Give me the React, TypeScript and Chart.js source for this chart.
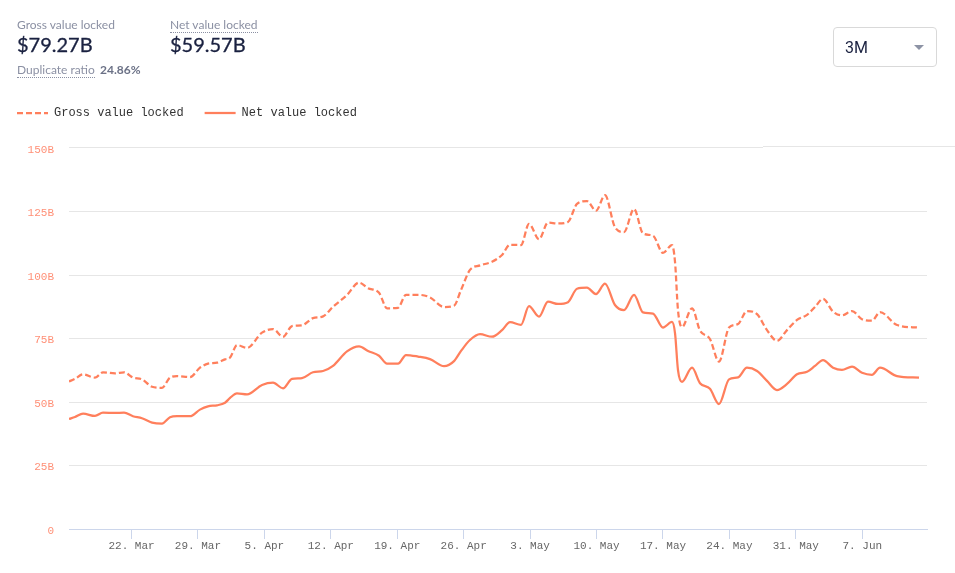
import React, { useRef, useEffect } from 'react';
import { Chart, registerables } from 'chart.js';

Chart.register(...registerables);

// days since the first sample at the turning points of the curves
const days = [
  0, 0.63, 1.48, 2.74, 3.58, 4.85, 5.8, 6.74, 7.69, 8.75, 9.8, 10.64, 11.38, 12.75, 13.8, 14.65,
  15.6, 16.44, 16.97, 17.7, 18.76, 20.34, 21.5, 22.55, 23.5, 24.55, 25.71, 26.77, 27.82, 29.29,
  30.56, 31.51, 32.67, 33.51, 34.67, 35.51, 36.78, 38.04, 39.52, 40.57, 41.31, 42.25, 43.31, 44.57,
  45.63, 46.47, 47.63, 48.47, 49.53, 50.47, 51.53, 52.58, 53.53, 54.58, 55.53, 56.48, 57.53, 58.48,
  59.54, 60.48, 61.54, 62.59, 63.54, 63.86, 64.17, 64.59, 65.65, 66.49, 67.54, 68.49, 69.55, 70.5,
  71.44, 72.5, 73.55, 74.6, 75.66, 76.71, 77.77, 78.61, 79.45, 80.51, 81.45, 82.51, 83.56, 84.61,
  85.46, 87.25, 89.57,
];

const netValues = [
  43.3, 44.1, 45.4, 44.5, 45.8, 45.7, 45.8, 44.4, 43.6, 41.9, 41.5, 44.0, 44.4, 44.4, 47.0, 48.3,
  48.7, 49.7, 51.6, 53.4, 53.0, 56.7, 57.6, 55.4, 59.1, 59.4, 61.7, 62.2, 64.2, 69.9,
  71.9, 70.1, 68.2, 65.1, 65.1, 68.5, 67.9, 66.9, 64.1, 66.1, 70.1, 74.4, 76.7, 75.7,
  78.3, 81.4, 80.4, 87.7, 83.6, 89.5, 88.6, 89.3, 94.6, 95.0, 92.5, 96.6, 88.2, 86.2,
  92.2, 85.3, 84.8, 79.3, 81.5, 77.0, 62.6, 57.9, 63.5, 57.4, 55.2, 49.2, 58.9, 59.7,
  63.5, 62.2, 58.3, 54.7, 57.1, 60.9, 61.9, 64.2, 66.5, 63.5, 62.6, 63.9, 61.5, 60.7,
  63.5, 60.2, 59.57,
];

const grossValues = [
  58.1, 59.1, 60.9, 59.6, 61.7, 61.3, 61.7, 59.6, 58.9, 56.0, 55.6, 59.6, 60.2, 59.8, 63.5, 65.1,
  65.5, 66.8, 67.5, 72.4, 71.3, 77.3, 78.7, 75.7, 79.9, 80.2, 83.0, 83.7, 87.5, 92.1,
  97.0, 94.8, 93.0, 86.9, 87.1, 92.2, 92.2, 91.2, 87.4, 87.9, 94.1, 102.0, 103.8, 105.2,
  107.9, 111.9, 111.8, 120.1, 114.1, 120.6, 120.3, 120.9, 128.0, 129.1, 125.3, 131.4, 118.8, 116.9,
  126.0, 116.4, 115.5, 108.7, 111.8, 105.1, 86.2, 79.5, 86.9, 78.1, 74.8, 65.9, 79.3, 80.7,
  85.8, 84.6, 78.3, 74.1, 78.3, 82.3, 84.3, 87.4, 90.6, 85.6, 84.1, 85.8, 82.6, 82.0,
  85.4, 80.3, 79.27,
];

const weekLabels = [
  '22. Mar', '29. Mar', '5. Apr', '12. Apr', '19. Apr', '26. Apr',
  '3. May', '10. May', '17. May', '24. May', '31. May', '7. Jun',
];
const weekTicks = [6.59, 13.59, 20.59, 27.59, 34.59, 41.59, 48.59, 55.59, 62.59, 69.59, 76.59, 83.59];

const CORAL = '#ff7f5c';
const MONO = '"Liberation Mono", monospace';

const toPoints = (values: number[]) => values.map((y, i) => ({ x: days[i], y }));

const App: React.FC = () => {
  const chartRef = useRef<HTMLCanvasElement | null>(null);

  useEffect(() => {
    if (!chartRef.current) return;

    const chart = new Chart(chartRef.current, {
      type: 'line',
      data: {
        datasets: [
          {
            label: 'Gross value locked',
            data: toPoints(grossValues),
            borderColor: CORAL,
            backgroundColor: CORAL,
            borderWidth: 2.25,
            borderDash: [6, 3],
            pointRadius: 0,
            cubicInterpolationMode: 'monotone',
          },
          {
            label: 'Net value locked',
            data: toPoints(netValues),
            borderColor: CORAL,
            backgroundColor: CORAL,
            borderWidth: 2.25,
            pointRadius: 0,
            cubicInterpolationMode: 'monotone',
          },
        ],
      },
      options: {
        responsive: false,
        animation: false,
        layout: { padding: { left: -4, right: 28, top: 86, bottom: 0 } },
        scales: {
          x: {
            type: 'linear',
            min: 0,
            max: 90.41,
            afterBuildTicks: (scale) => {
              scale.ticks = weekTicks.map((value) => ({ value }));
            },
            afterFit: (scale) => {
              scale.height = 44;
            },
            grid: { drawOnChartArea: false, color: '#ccd6eb', tickLength: 10 },
            border: { color: '#ccd6eb' },
            ticks: {
              autoSkip: false,
              maxRotation: 0,
              padding: 0,
              color: '#666666',
              font: { family: MONO, size: 11 },
              callback: (_value, index) => weekLabels[index],
            },
          },
          y: {
            min: 0,
            max: 150,
            afterFit: (scale) => {
              scale.width = 73;
            },
            grid: {
              // the top line sits one pixel off the rhythm, it is drawn as its own rule below
              color: (ctx) => (ctx.tick.value === 150 ? 'transparent' : '#e6e6e6'),
              drawTicks: false,
            },
            border: { display: false },
            ticks: {
              stepSize: 25,
              padding: 15,
              labelOffset: 2,
              color: '#ff9077',
              font: { family: MONO, size: 11 },
              callback: (value) => (value === 0 ? '0' : `${value}B`),
            },
          },
        },
        plugins: {
          tooltip: { enabled: false },
          legend: {
            position: 'top',
            align: 'start',
            labels: {
              usePointStyle: true,
              pointStyle: 'line',
              pointStyleWidth: 31,
              padding: 21,
              color: '#333333',
              font: { family: MONO, size: 12 },
              // with point styles the default labels lose the dataset's dash and width
              generateLabels: (c) =>
                Chart.defaults.plugins.legend.labels.generateLabels(c).map((item, i) => ({
                  ...item,
                  lineDash: c.data.datasets[i].borderDash as number[],
                  lineWidth: 2.25,
                  strokeStyle: CORAL,
                })),
            },
          },
        },
      },
      plugins: [
        {
          // the gap under the legend is larger than the library's own padding
          id: 'legendGap',
          beforeLayout: (c: any) => {
            if (c.legend && !c.legend.gapPatched) {
              const fit = c.legend.fit;
              c.legend.fit = function () {
                fit.call(this);
                this.height = 62;
              };
              c.legend.gapPatched = true;
            }
          },
        },
      ],
    });

    return () => chart.destroy();
  }, []);

  const label: React.CSSProperties = { position: 'absolute', font: '12px Lato', color: '#8b90a3', whiteSpace: 'nowrap' };
  const amount: React.CSSProperties = {
    position: 'absolute', font: '20px Lato', color: '#1a2140', whiteSpace: 'nowrap', WebkitTextStroke: '0.3px #1a2140',
  };
  const dotted: React.CSSProperties = { borderBottom: '1px dotted #8b90a3' };

  return (
    <div style={{ position: 'absolute', left: 0, top: 0, width: 955, height: 573, background: '#fff', overflow: 'hidden' }}>
      <canvas ref={chartRef} width={955} height={573} style={{ display: 'block' }} />
      <div style={{ ...label, left: 17, top: 17 }}>Gross value locked</div>
      <div style={{ ...label, left: 170, top: 17 }}><span style={dotted}>Net value locked</span></div>
      <div style={{ ...amount, left: 17, top: 32 }}>$79.27B</div>
      <div style={{ ...amount, left: 170, top: 32 }}>$59.57B</div>
      <div style={{ ...label, left: 17, top: 62 }}><span style={dotted}>Duplicate ratio</span></div>
      <div style={{ position: 'absolute', left: 100, top: 62, font: 'bold 12px Lato', color: '#6b7186' }}>24.86%</div>
      <div
        style={{
          position: 'absolute', left: 833, top: 27, width: 102, height: 38,
          border: '1px solid #d9d9d9', borderRadius: 4,
        }}
      >
        <span style={{ position: 'absolute', left: 11, top: 10, font: '16px Roboto', color: '#1a2140' }}>3M</span>
        <span
          style={{
            position: 'absolute', left: 80, top: 17, width: 0, height: 0,
            borderLeft: '5px solid transparent', borderRight: '5px solid transparent', borderTop: '5px solid #8d93a5',
          }}
        />
      </div>
      <div style={{ position: 'absolute', left: 69, top: 147, width: 694, height: 1, background: '#e6e6e6' }} />
      <div style={{ position: 'absolute', left: 763, top: 146, width: 192, height: 1, background: '#e6e6e6' }} />
    </div>
  );
};

export default App;
